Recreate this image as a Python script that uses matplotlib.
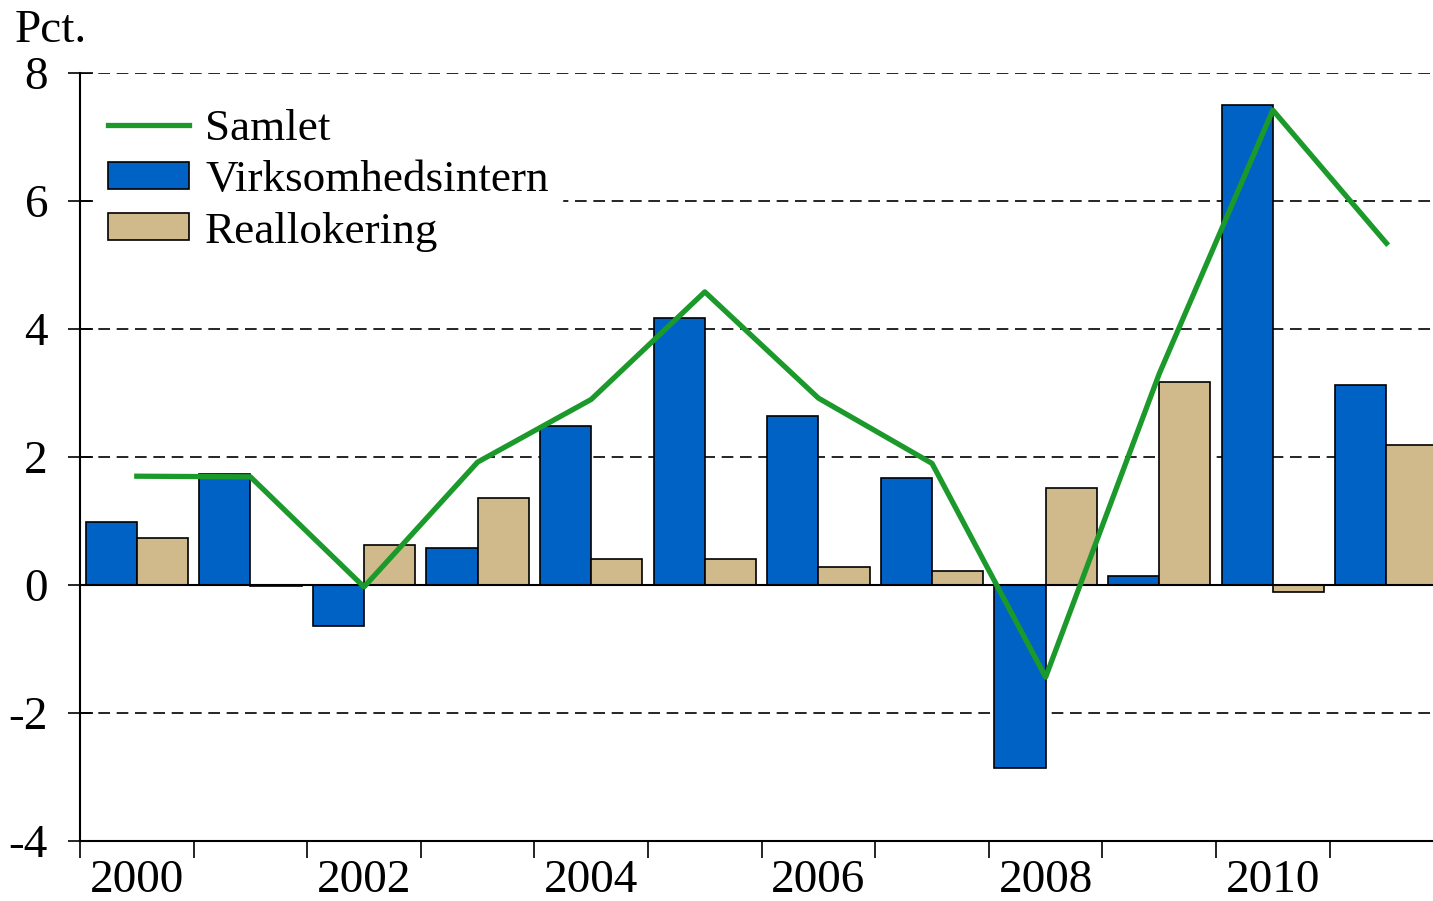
import numpy as np
import matplotlib.pyplot as plt

plt.rcParams['font.family'] = ['Liberation Serif', 'DejaVu Serif']

years = ['2000', '2001', '2002', '2003', '2004', '2005', '2006', '2007', '2008', '2009', '2010', '2011']
virksomhedsintern = [0.98, 1.73, -0.64, 0.58, 2.48, 4.17, 2.64, 1.67, -2.86, 0.14, 7.50, 3.13]
reallokering = [0.73, -0.02, 0.62, 1.36, 0.41, 0.41, 0.28, 0.22, 1.52, 3.17, -0.11, 2.19]
samlet = [1.70, 1.69, -0.03, 1.92, 2.90, 4.58, 2.92, 1.90, -1.44, 3.30, 7.42, 5.34]

blue = '#0062C4'
tan = '#D0BA8C'
green = '#1B9A2B'

x = np.arange(len(years))

fig = plt.figure(figsize=(14.33, 9.01), dpi=100)
ax = fig.add_axes([80 / 1433, 60 / 901, 1353 / 1433, 768 / 901])

# gridlines
for yv in [8, 6, 4, 2, -2]:
    ax.axhline(yv, color='black', lw=1.2, ls=(0, (7, 4)), zorder=1)
ax.axhline(0, color='black', lw=1.5, zorder=4)

b1 = ax.bar(x - 0.225, virksomhedsintern, width=0.45, color=blue, edgecolor='black',
            linewidth=1.2, zorder=2)
b2 = ax.bar(x + 0.225, reallokering, width=0.45, color=tan, edgecolor='black',
            linewidth=1.2, zorder=2)
l1, = ax.plot(x, samlet, color=green, lw=3.8, zorder=5)

ax.set_ylim(-4, 8)
ax.set_xlim(-0.5, 11.41)
ax.set_yticks([-4, -2, 0, 2, 4, 6, 8])
ax.set_yticklabels(['-4', '-2', '0', '2', '4', '6', '8'])
ax.tick_params(axis='y', direction='inout', length=18, width=1.2, labelsize=34, pad=14)

ax.set_xticks(np.arange(-0.5, 11.5, 1.0))
ax.set_xticklabels([])
ax.tick_params(axis='x', which='major', direction='out', length=12, width=1.2)
ax.set_xticks(x[::2], minor=True)
ax.set_xticklabels(years[::2], minor=True)
ax.tick_params(axis='x', which='minor', length=0, labelsize=34, pad=13)

for s in ['top', 'right']:
    ax.spines[s].set_visible(False)
ax.spines['left'].set_linewidth(1.5)
ax.spines['bottom'].set_linewidth(1.5)

leg = ax.legend([l1, b1, b2], ['Samlet', 'Virksomhedsintern', 'Reallokering'],
                loc='upper left', bbox_to_anchor=(-0.006, 1.0), fontsize=32.5,
                frameon=True, fancybox=False, framealpha=1, edgecolor='white',
                handlelength=1.8, handleheight=0.55, handletextpad=0.35,
                labelspacing=0.25, borderpad=0.3)
leg.set_zorder(6)

fig.text(15 / 1433, 1 - 10 / 901, 'Pct.', fontsize=34, va='top', ha='left')

fig.savefig('out.png', dpi=100)
